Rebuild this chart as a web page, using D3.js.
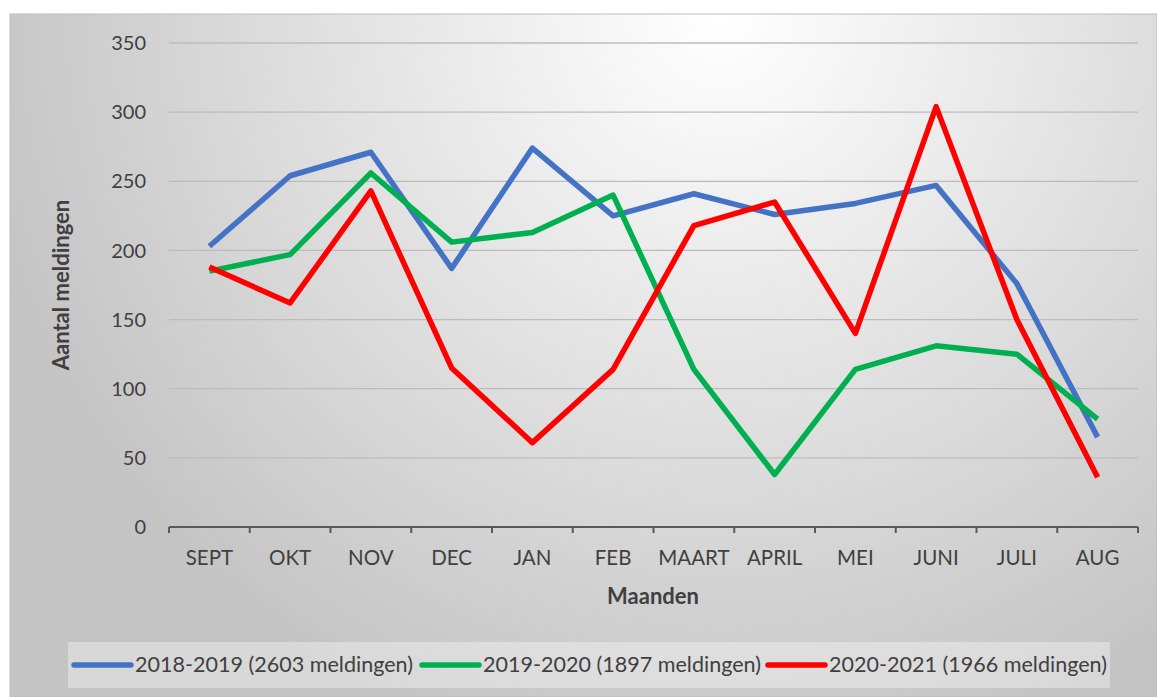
<!DOCTYPE html>
<html>
<head>
<meta charset="utf-8">
<script src="https://cdn.jsdelivr.net/npm/d3@7"></script>
<style>
  body { margin: 0; background: #fff; }
  text { font-family: Lato, "Open Sans", sans-serif; fill: #404040; }
</style>
</head>
<body>
<div id="chart"></div>
<script>
var months = ["SEPT", "OKT", "NOV", "DEC", "JAN", "FEB", "MAART", "APRIL", "MEI", "JUNI", "JULI", "AUG"];
var s2018 = [203, 254, 271, 187, 274, 225, 241, 226, 234, 247, 176, 65];
var s2019 = [185, 197, 256, 206, 213, 240, 114, 38, 114, 131, 125, 78];
var s2020 = [188, 162, 243, 115, 61, 114, 218, 235, 140, 304, 150, 36];
var seriesNames = ["2018-2019 (2603 meldingen)", "2019-2020 (1897 meldingen)", "2020-2021 (1966 meldingen)"];
var colors = ["#4472C4", "#00B050", "#FF0000"];
var yTicks = [0, 50, 100, 150, 200, 250, 300, 350];

var W = 1157, H = 697;
var margin = { top: 43, right: 19, bottom: 170, left: 169 },
  width = W - margin.left - margin.right,
  height = H - margin.top - margin.bottom;

var svg = d3.select("#chart").append("svg")
  .attr("width", W).attr("height", H);

// background gradient
var defs = svg.append("defs");
var grad = defs.append("radialGradient").attr("id", "bg")
  .attr("gradientUnits", "userSpaceOnUse")
  .attr("cx", 720).attr("cy", 14).attr("r", 760);
grad.append("stop").attr("offset", "0%").attr("stop-color", "#ffffff");
grad.append("stop").attr("offset", "100%").attr("stop-color", "#c4c4c4");

svg.append("rect").attr("x", 10).attr("y", 14).attr("width", W - 10).attr("height", H - 14)
  .attr("fill", "url(#bg)").attr("stroke", "#bdbdbd").attr("stroke-width", 1);

var g = svg.append("g").attr("transform", "translate(" + margin.left + "," + margin.top + ")");

var x = d3.scaleBand().domain(months).range([0, width]);
var y = d3.scaleLinear().domain([0, 350]).range([height, 0]);

// gridlines
g.selectAll(".grid").data(yTicks.slice(1)).enter().append("line")
  .attr("x1", 0).attr("x2", width)
  .attr("y1", function (d) { return y(d); }).attr("y2", function (d) { return y(d); })
  .attr("stroke", "#bcbcbc").attr("stroke-width", 1.3);

// y labels
g.selectAll(".ylab").data(yTicks).enter().append("text")
  .attr("x", -23).attr("y", function (d) { return y(d); }).attr("dy", "0.36em")
  .attr("text-anchor", "end").style("font-size", "20px").text(function (d) { return d; });

// x axis
g.append("line").attr("x1", 0).attr("x2", width).attr("y1", height).attr("y2", height)
  .attr("stroke", "#595959").attr("stroke-width", 2);
var bounds = d3.range(months.length + 1).map(function (i) { return i * x.bandwidth(); });
g.selectAll(".tick").data(bounds).enter().append("line")
  .attr("x1", function (d) { return d; }).attr("x2", function (d) { return d; })
  .attr("y1", height).attr("y2", height + 6)
  .attr("stroke", "#595959").attr("stroke-width", 2);
g.selectAll(".xlab").data(months).enter().append("text")
  .attr("x", function (d) { return x(d) + x.bandwidth() / 2; }).attr("y", height + 38)
  .attr("text-anchor", "middle").style("font-size", "20.5px").text(function (d) { return d; });

// axis titles
svg.append("text").attr("x", 653).attr("y", 604).attr("text-anchor", "middle")
  .style("font-size", "22px").style("font-weight", "bold").text("Maanden");
svg.append("text").attr("transform", "translate(69,285) rotate(-90)").attr("text-anchor", "middle")
  .style("font-size", "22px").style("font-weight", "bold").text("Aantal meldingen");

// lines
var line = d3.line()
  .x(function (d, i) { return x(months[i]) + x.bandwidth() / 2; })
  .y(function (d) { return y(d); });
[s2018, s2019, s2020].forEach(function (s, k) {
  g.append("path").datum(s).attr("fill", "none").attr("stroke", colors[k])
    .attr("stroke-width", 5.5).attr("stroke-linejoin", "round").attr("d", line);
});

// legend
svg.append("rect").attr("x", 68).attr("y", 642).attr("width", 1042).attr("height", 46)
  .attr("fill", "#ffffff").attr("fill-opacity", 0.35);
var legX = [74, 422, 768];
seriesNames.forEach(function (n, k) {
  svg.append("line").attr("x1", legX[k]).attr("x2", legX[k] + 57).attr("y1", 665).attr("y2", 665)
    .attr("stroke", colors[k]).attr("stroke-width", 5.5).attr("stroke-linecap", "round");
  svg.append("text").attr("x", legX[k] + 61).attr("y", 672)
    .attr("textLength", 278).attr("lengthAdjust", "spacingAndGlyphs")
    .style("font-size", "22px").text(n);
});
</script>
</body>
</html>
